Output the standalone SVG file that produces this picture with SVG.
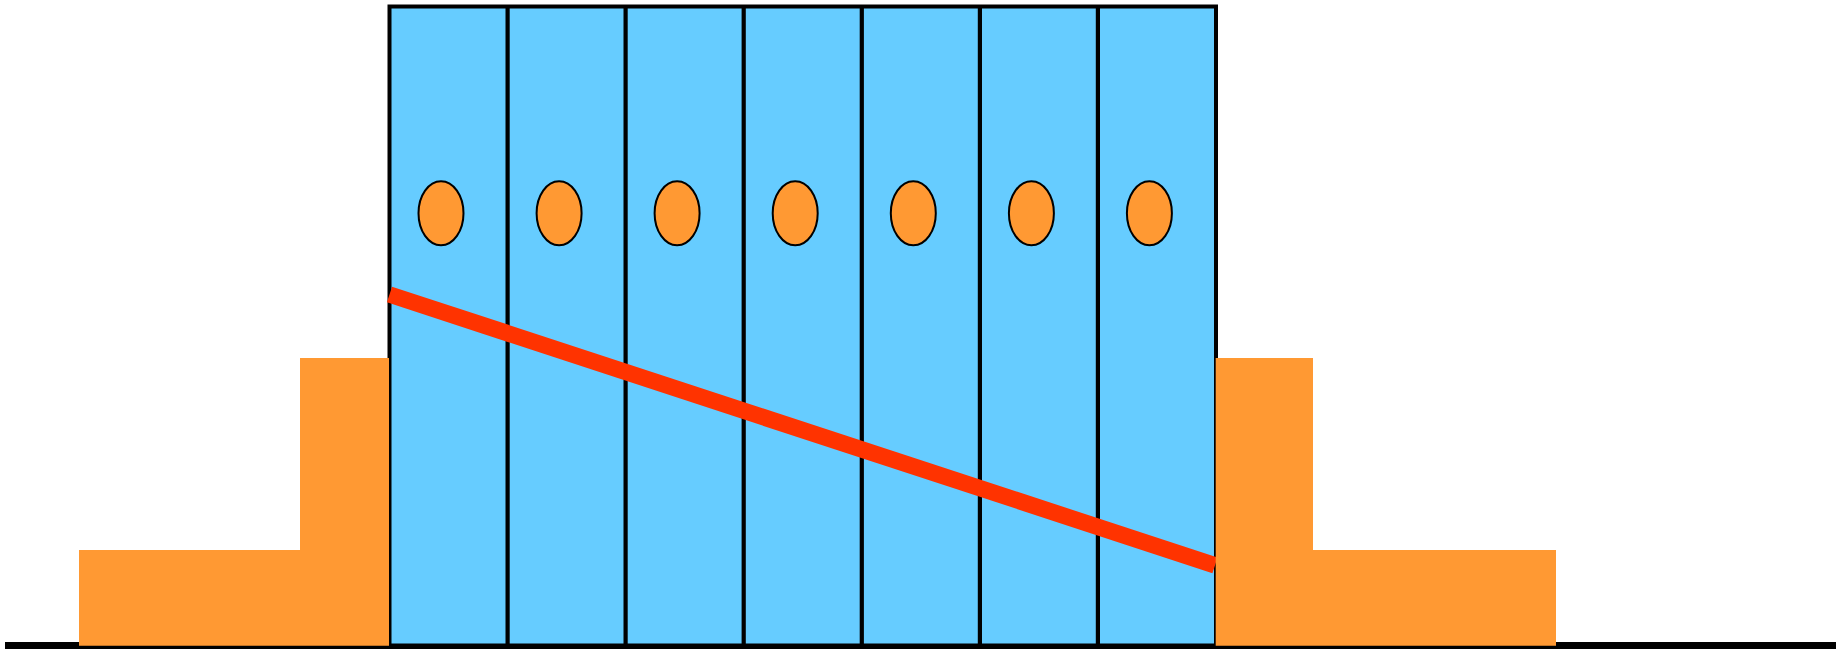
<svg xmlns="http://www.w3.org/2000/svg" width="1841" height="649" viewBox="0 0 1841 649">
  <style>
    .col { fill: #66CCFF; stroke: #000; stroke-width: 4; }
    .divider { stroke: #000; stroke-width: 4.2; fill: none; }
    .hole { fill: #FF9933; stroke: #000; stroke-width: 2; }
    .block { fill: #FF9933; stroke: none; }
    .beam { stroke: #FF3300; stroke-width: 16.5; stroke-linecap: butt; fill: none; }
  </style>
  <rect width="1841" height="649" fill="#fff"/>

  <!-- ground line -->
  <g id="ground">
    <rect x="5" y="642" width="1831" height="8" fill="#000"/>
  </g>

  <!-- central body split into seven columns -->
  <g id="body">
    <rect class="col" x="389.5" y="6.5" width="826.5" height="639"/>
    <g id="dividers">
      <line class="divider" x1="507.6" y1="6.5" x2="507.6" y2="645.5"/>
      <line class="divider" x1="625.6" y1="6.5" x2="625.6" y2="645.5"/>
      <line class="divider" x1="743.7" y1="6.5" x2="743.7" y2="645.5"/>
      <line class="divider" x1="861.8" y1="6.5" x2="861.8" y2="645.5"/>
      <line class="divider" x1="979.9" y1="6.5" x2="979.9" y2="645.5"/>
      <line class="divider" x1="1097.9" y1="6.5" x2="1097.9" y2="645.5"/>
    </g>
  </g>

  <!-- one hole per column -->
  <g id="holes">
    <ellipse id="hole1" class="hole" cx="441" cy="213.3" rx="22.5" ry="32"/>
    <ellipse id="hole2" class="hole" cx="559.1" cy="213.3" rx="22.5" ry="32"/>
    <ellipse id="hole3" class="hole" cx="677.1" cy="213.3" rx="22.5" ry="32"/>
    <ellipse id="hole4" class="hole" cx="795.2" cy="213.3" rx="22.5" ry="32"/>
    <ellipse id="hole5" class="hole" cx="913.3" cy="213.3" rx="22.5" ry="32"/>
    <ellipse id="hole6" class="hole" cx="1031.4" cy="213.3" rx="22.5" ry="32"/>
    <ellipse id="hole7" class="hole" cx="1149.4" cy="213.3" rx="22.5" ry="32"/>
  </g>

  <!-- diagonal beam across the body -->
  <g id="connectors">
    <line class="beam" x1="389.5" y1="294.5" x2="1215" y2="565.3"/>
  </g>

  <!-- stepped side blocks -->
  <g id="left-block">
    <polygon class="block" points="79,550 300,550 300,358 389,358 389,645.7 79,645.7"/>
  </g>
  <g id="right-block">
    <polygon class="block" points="1215.7,358 1313,358 1313,550 1556,550 1556,645.7 1215.7,645.7"/>
  </g>
</svg>
